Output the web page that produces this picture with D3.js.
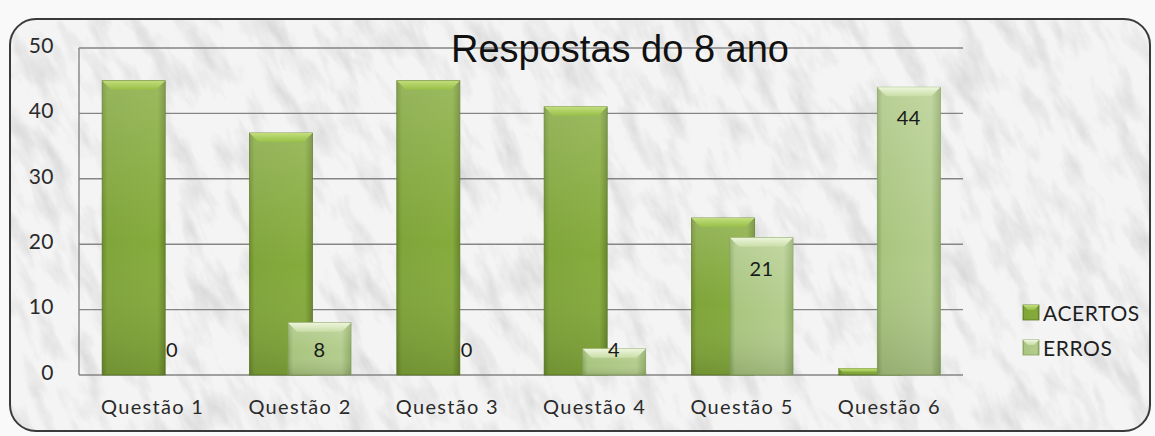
<!DOCTYPE html>
<html>
<head>
<meta charset="utf-8">
<script src="https://cdn.jsdelivr.net/npm/d3@7"></script>
<style>
  html, body { margin: 0; padding: 0; background: #fff; }
  svg { display: block; }
</style>
</head>
<body>
<div id="chart"></div>
<script>
var categories = ['Questão 1', 'Questão 2', 'Questão 3', 'Questão 4', 'Questão 5', 'Questão 6'];
var acertos = [45, 37, 45, 41, 24, 1];
var erros = [0, 8, 0, 4, 21, 44];
var seriesNames = ['ACERTOS', 'ERROS'];
var yTicks = [0, 10, 20, 30, 40, 50];
var title = 'Respostas do 8 ano';

var W = 1155, H = 436;
var plot = { left: 79, right: 963, top: 48, bottom: 375 };
var font = 'Lato, "Open Sans", sans-serif';

var svg = d3.select('#chart').append('svg')
  .attr('width', W)
  .attr('height', H);

var defs = svg.append('defs');

// marble-ish background (filter only, no data)
var marble = defs.append('filter').attr('id', 'marble')
  .attr('x', 0).attr('y', 0).attr('width', '100%').attr('height', '100%');
marble.append('feTurbulence')
  .attr('type', 'fractalNoise')
  .attr('baseFrequency', '0.05 0.018')
  .attr('numOctaves', 5)
  .attr('seed', 3)
  .attr('result', 'noise');
marble.append('feColorMatrix')
  .attr('in', 'noise')
  .attr('type', 'matrix')
  .attr('values', '0 0 0 0 0  0 0 0 0 0  0 0 0 0 0  -1.8 0 0 0 1.0')
  .attr('result', 'veins');
marble.append('feComposite').attr('in', 'SourceGraphic').attr('in2', 'veins').attr('operator', 'in');

var clip = defs.append('clipPath').attr('id', 'frameClip');
clip.append('rect')
  .attr('x', 10).attr('y', 19).attr('width', 1140).attr('height', 412)
  .attr('rx', 26).attr('ry', 26);

svg.append('rect').attr('x', 0).attr('y', 0).attr('width', W).attr('height', H).attr('fill', '#f9f9f9');

var frame = svg.append('g').attr('clip-path', 'url(#frameClip)');
frame.append('rect')
  .attr('x', 10).attr('y', 19).attr('width', 1140).attr('height', 412)
  .attr('fill', '#f4f4f4');
frame.append('g')
  .attr('transform', 'rotate(-25 580 225)')
  .append('rect')
  .attr('x', -200).attr('y', -300).attr('width', 1600).attr('height', 1100)
  .attr('fill', '#8f8f8f')
  .attr('opacity', 0.32)
  .attr('filter', 'url(#marble)');

svg.append('rect')
  .attr('x', 10).attr('y', 19).attr('width', 1140).attr('height', 412)
  .attr('rx', 26).attr('ry', 26)
  .attr('fill', 'none')
  .attr('stroke', '#3a3a3a')
  .attr('stroke-width', 2);

// gradients
function grad(id, vertical, stops) {
  var g = defs.append('linearGradient').attr('id', id)
    .attr('x1', '0%').attr('y1', '0%')
    .attr('x2', vertical ? '0%' : '100%').attr('y2', vertical ? '100%' : '0%');
  stops.forEach(function(s) {
    g.append('stop').attr('offset', s[0]).attr('stop-color', s[1]).attr('stop-opacity', s[2] == null ? 1 : s[2]);
  });
}
grad('gA', false, [['0%', '#6a8a2a'], ['8%', '#80a53a'], ['88%', '#86ab3c'], ['100%', '#66862a']]);
grad('gE', false, [['0%', '#8aa962'], ['8%', '#a9c57f'], ['85%', '#b4cd8d'], ['100%', '#8eac67']]);
grad('gShade', true, [['0%', '#ffffff', 0.18], ['55%', '#ffffff', 0], ['100%', '#000000', 0.12]]);
grad('gAtop', true, [['0%', '#c2de7c'], ['100%', '#98bf48']]);
grad('gEtop', true, [['0%', '#eef6dc'], ['100%', '#c8dda6']]);

var x = d3.scaleBand().domain(categories).range([plot.left, plot.right]).padding(0);
var y = d3.scaleLinear().domain([0, 50]).range([plot.bottom, plot.top]);

var barW = 63;
var offsets = [-50.5, -12];

// gridlines
svg.append('g')
  .selectAll('line')
  .data(yTicks)
  .enter()
  .append('line')
  .attr('x1', plot.left)
  .attr('x2', plot.right)
  .attr('y1', function(d) { return y(d); })
  .attr('y2', function(d) { return y(d); })
  .attr('stroke', '#858585')
  .attr('stroke-width', 1.4);

svg.append('line')
  .attr('x1', plot.left).attr('x2', plot.left)
  .attr('y1', plot.top).attr('y2', plot.bottom)
  .attr('stroke', '#858585').attr('stroke-width', 1.4);

// y axis labels
var yAxis = d3.axisLeft(y).tickValues(yTicks).tickSize(0).tickPadding(0);
var yg = svg.append('g')
  .attr('transform', 'translate(54,0)')
  .call(yAxis);
yg.select('.domain').remove();
yg.selectAll('text')
  .attr('font-family', font)
  .attr('font-size', 21)
  .attr('fill', '#2a2a2a')
  .attr('letter-spacing', 0.5)
  .attr('dy', '0.2em');

// x axis labels
var xAxis = d3.axisBottom(x).tickSize(0).tickPadding(0);
var xg = svg.append('g')
  .attr('transform', 'translate(0,400)')
  .call(xAxis);
xg.select('.domain').remove();
xg.selectAll('text')
  .attr('font-family', font)
  .attr('font-size', 20)
  .attr('fill', '#2a2a2a')
  .attr('letter-spacing', 1.3);

// bars
var series = [acertos, erros];
var fills = ['url(#gA)', 'url(#gE)'];
var tops = ['url(#gAtop)', 'url(#gEtop)'];
var edges = ['#5c7a24', '#84a15c'];

series.forEach(function(vals, si) {
  var g = svg.append('g');
  var data = categories.map(function(c, i) { return { cat: c, v: vals[i] }; });
  var shown = data.filter(function(d) { return d.v > 0; });
  var bx = function(d) { return x(d.cat) + x.bandwidth() / 2 + offsets[si]; };

  g.selectAll('rect.bar')
    .data(shown)
    .enter()
    .append('rect')
    .attr('class', 'bar')
    .attr('x', bx)
    .attr('y', function(d) { return y(d.v); })
    .attr('width', barW)
    .attr('height', function(d) { return y(0) - y(d.v); })
    .attr('fill', fills[si])
    .attr('stroke', edges[si])
    .attr('stroke-width', 0.8);

  g.selectAll('rect.shade')
    .data(shown)
    .enter()
    .append('rect')
    .attr('class', 'shade')
    .attr('x', bx)
    .attr('y', function(d) { return y(d.v); })
    .attr('width', barW)
    .attr('height', function(d) { return y(0) - y(d.v); })
    .attr('fill', 'url(#gShade)');

  // bevel on top
  g.selectAll('path.bevel')
    .data(shown)
    .enter()
    .append('path')
    .attr('class', 'bevel')
    .attr('d', function(d) {
      var x0 = bx(d), x1 = x0 + barW, t = y(d.v);
      var b = Math.min(9, (y(0) - t) / 2);
      return 'M' + x0 + ',' + t + 'L' + x1 + ',' + t +
        'L' + (x1 - b) + ',' + (t + b) + 'L' + (x0 + b) + ',' + (t + b) + 'Z';
    })
    .attr('fill', tops[si]);

  if (si === 1) {
    g.selectAll('text')
      .data(data)
      .enter()
      .append('text')
      .attr('x', function(d) { return bx(d) + barW / 2; })
      .attr('y', function(d) { return Math.min(y(d.v) + 31, y(0) - 25); })
      .attr('dy', '0.35em')
      .attr('text-anchor', 'middle')
      .attr('font-family', font)
      .attr('font-size', 20)
      .attr('letter-spacing', 0.5)
      .attr('fill', '#1a1a1a')
      .text(function(d) { return d.v; });
  }
});

// title
svg.append('text')
  .attr('x', 620)
  .attr('y', 62)
  .attr('text-anchor', 'middle')
  .attr('font-family', '"Liberation Sans", Arial, sans-serif')
  .attr('font-size', 38)
  .attr('fill', '#111')
  .text(title);

// legend
var legend = svg.append('g').attr('transform', 'translate(1023,305)');
var lItems = legend.selectAll('g')
  .data(seriesNames)
  .enter()
  .append('g')
  .attr('transform', function(d, i) { return 'translate(0,' + i * 35 + ')'; });
lItems.append('rect')
  .attr('width', 16).attr('height', 15)
  .attr('fill', function(d, i) { return fills[i]; })
  .attr('stroke', function(d, i) { return edges[i]; })
  .attr('stroke-width', 0.8);
lItems.append('path')
  .attr('d', 'M0,0L16,0L11,5L5,5Z')
  .attr('fill', function(d, i) { return tops[i]; });
lItems.append('text')
  .attr('x', 20)
  .attr('y', 8)
  .attr('dy', '0.36em')
  .attr('font-family', font)
  .attr('font-size', 21)
  .attr('letter-spacing', 0.6)
  .attr('fill', '#1e1e1e')
  .text(function(d) { return d; });
</script>
</body>
</html>
